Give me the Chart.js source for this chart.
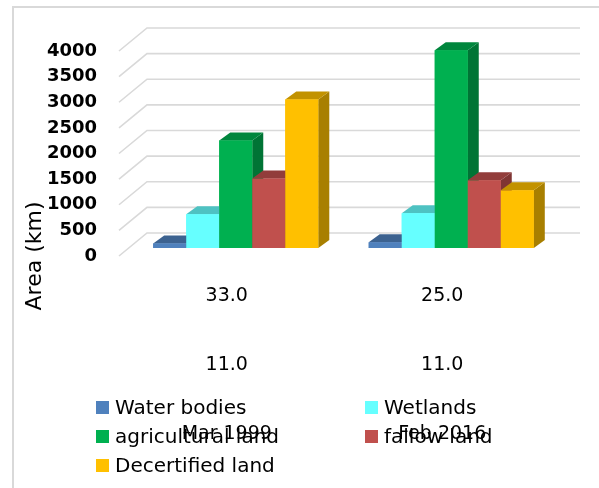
<!DOCTYPE html>
<html>
<head>
<meta charset="utf-8">
<script src="https://cdn.jsdelivr.net/npm/chart.js@4/dist/chart.umd.min.js"></script>
<style>
  html, body { margin: 0; padding: 0; background: #fff; }
  #wrap { position: relative; width: 599px; height: 488px; overflow: hidden; }
  #frame { position: absolute; left: 12px; top: 6px; right: 0; bottom: 0;
           border-left: 2px solid #d9d9d9; border-top: 2px solid #d9d9d9; pointer-events: none; }
  #legend { position: absolute; left: 0; top: 0; width: 599px; height: 488px; pointer-events: none;
            font-family: "DejaVu Sans", sans-serif; font-size: 20px; color: #000; }
  .item { position: absolute; display: flex; align-items: center; white-space: nowrap; height: 24px; }
  .box { width: 13px; height: 13px; margin-right: 6px; flex: none; }
</style>
</head>
<body>
<div id="wrap">
  <canvas id="c" width="599" height="488"></canvas>
  <div id="frame"></div>
  <div id="legend"></div>
</div>
<script>
// Category axis: value line, second value line, date
const categories = [
  ["33.0", "11.0", "Mar 1999"],
  ["25.0", "11.0", "Feb 2016"]
];

const seriesNames = ["Water bodies", "Wetlands", "agricultural land", "fallow land", "Decertified land"];
const seriesColors = ["#4F81BD", "#66FFFF", "#00B050", "#C0504D", "#FFC000"];

// Area (km) per land-cover class, [Mar 1999, Feb 2016]
const waterBodies = [90, 110];
const wetlands = [660, 680];
const agriculturalLand = [2100, 3860];
const fallowLand = [1355, 1320];
const decertifiedLand = [2900, 1125];

const yTicks = [0, 500, 1000, 1500, 2000, 2500, 3000, 3500, 4000];
const yTitle = "Area (km)";

const seriesValues = [waterBodies, wetlands, agriculturalLand, fallowLand, decertifiedLand];

function shade(hex, f) {
  const n = parseInt(hex.slice(1), 16);
  const r = Math.round(((n >> 16) & 255) * f);
  const g = Math.round(((n >> 8) & 255) * f);
  const b = Math.round((n & 255) * f);
  return `rgb(${r},${g},${b})`;
}

// Extrusion of each bar (side and top faces)
const DEPTH_X = 11, DEPTH_Y = 8;

const pseudo3d = {
  id: 'pseudo3d',
  // back wall grid with the diagonal lines running to the front edge
  beforeDatasetsDraw(chart) {
    const { ctx, chartArea, scales: { y } } = chart;
    ctx.save();
    ctx.strokeStyle = '#d9d9d9';
    ctx.lineWidth = 1.6;
    yTicks.forEach(v => {
      const py = y.getPixelForValue(v);
      ctx.beginPath();
      ctx.moveTo(chartArea.left - 9, py + 8);
      ctx.lineTo(chartArea.left + 19, py - 15);
      ctx.lineTo(chartArea.right + 21, py - 15);
      ctx.stroke();
    });
    ctx.restore();
  },
  // boxes painted left to right so each front face hides its left neighbour's side
  afterDatasetsDraw(chart) {
    const { ctx } = chart;
    ctx.save();
    chart.data.datasets.forEach((ds, i) => {
      const col = ds.backgroundColor;
      chart.getDatasetMeta(i).data.forEach(bar => {
        const { x, y, base: b, width } = bar.getProps(['x', 'y', 'base', 'width'], true);
        const l = x - width / 2, r = x + width / 2;
        ctx.fillStyle = shade(col, 0.66);
        ctx.beginPath();
        ctx.moveTo(r, y);
        ctx.lineTo(r + DEPTH_X, y - DEPTH_Y);
        ctx.lineTo(r + DEPTH_X, b - DEPTH_Y);
        ctx.lineTo(r, b);
        ctx.closePath();
        ctx.fill();
        ctx.fillStyle = shade(col, 0.76);
        ctx.beginPath();
        ctx.moveTo(l, y);
        ctx.lineTo(l + DEPTH_X, y - DEPTH_Y);
        ctx.lineTo(r + DEPTH_X, y - DEPTH_Y);
        ctx.lineTo(r, y);
        ctx.closePath();
        ctx.fill();
        ctx.fillStyle = col;
        ctx.fillRect(l, y, width, b - y);
      });
    });
    ctx.restore();
  },
  afterDraw(chart) {
    const { ctx } = chart;
    ctx.save();
    ctx.translate(35, 256);
    ctx.rotate(-Math.PI / 2);
    ctx.font = '22px "DejaVu Sans"';
    ctx.fillStyle = '#000';
    ctx.textAlign = 'center';
    ctx.textBaseline = 'middle';
    ctx.fillText(yTitle, 0, 0);
    ctx.restore();
  }
};

const chart = new Chart(document.getElementById('c'), {
  type: 'bar',
  data: {
    labels: categories,
    datasets: seriesNames.map((name, i) => ({
      label: name,
      data: seriesValues[i],
      backgroundColor: seriesColors[i],
      borderWidth: 0,
      barPercentage: 1,
      categoryPercentage: 0.766
    }))
  },
  options: {
    responsive: false,
    animation: false,
    events: [],
    layout: { padding: { top: 43, right: 40, left: 0, bottom: 0 } },
    plugins: { legend: { display: false }, tooltip: { enabled: false } },
    scales: {
      x: {
        grid: { display: false, drawTicks: false },
        border: { display: false },
        ticks: {
          color: '#000',
          padding: 14,
          labelOffset: -9,
          maxRotation: 0,
          autoSkip: false,
          font: { family: 'DejaVu Sans', size: 19, lineHeight: 69 / 19 }
        },
        afterFit(s) { s.height = 240; }
      },
      y: {
        min: 0,
        max: 4000,
        grid: { display: false, drawTicks: false },
        border: { display: false },
        afterBuildTicks(s) { s.ticks = yTicks.map(v => ({ value: v })); },
        ticks: {
          color: '#000',
          padding: 31,
          labelOffset: 8,
          callback: v => String(v),
          font: { family: 'DejaVu Sans', size: 18, weight: 'bold' }
        },
        afterFit(s) { s.width = 128; }
      }
    }
  },
  plugins: [pseudo3d]
});

// Legend: two columns, three rows
const legendEl = document.getElementById('legend');
const legendCols = [96, 365];
const legendRows = [407, 436, 465];
seriesNames.forEach((name, i) => {
  const item = document.createElement('div');
  item.className = 'item';
  item.style.left = legendCols[i % 2] + 'px';
  item.style.top = (legendRows[Math.floor(i / 2)] - 12) + 'px';
  const box = document.createElement('span');
  box.className = 'box';
  box.style.background = seriesColors[i];
  const txt = document.createElement('span');
  txt.textContent = name;
  item.appendChild(box);
  item.appendChild(txt);
  legendEl.appendChild(item);
});
</script>
</body>
</html>
